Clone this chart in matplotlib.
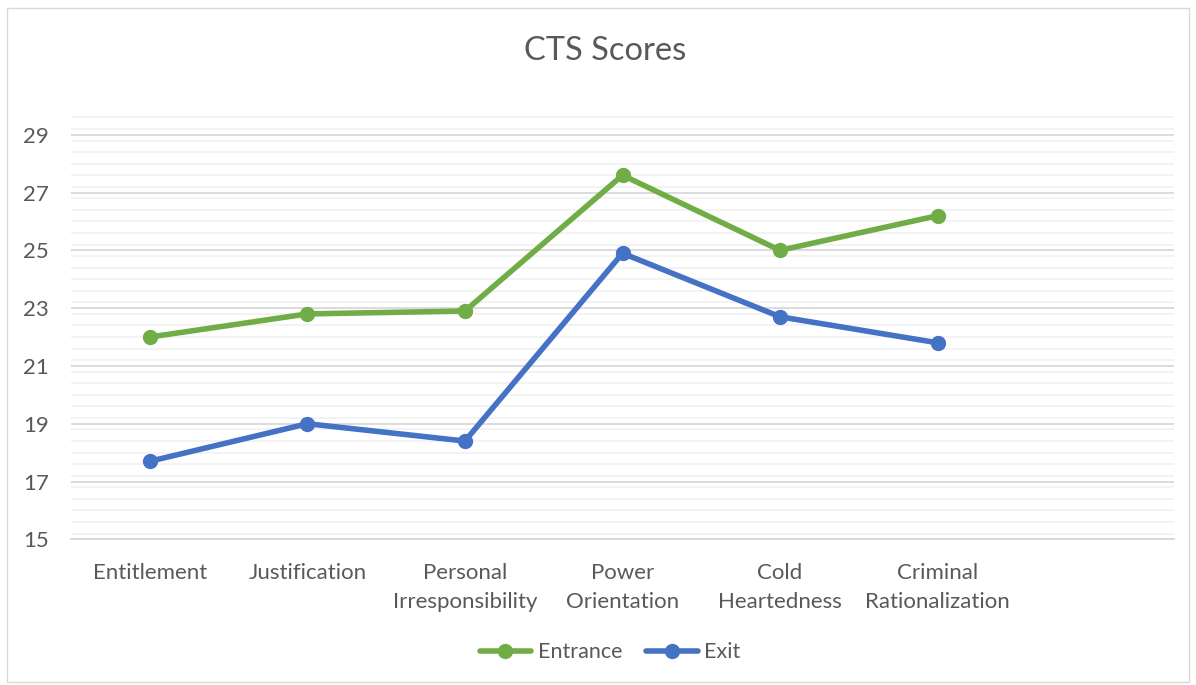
import matplotlib.pyplot as plt
from matplotlib.patches import Rectangle
from matplotlib.ticker import MultipleLocator

categories = ["Entitlement", "Justification", "Personal\nIrresponsibility",
              "Power\nOrientation", "Cold\nHeartedness", "Criminal\nRationalization", ""]
entrance = [22.0, 22.8, 22.9, 27.6, 25.0, 26.2]
exit_scores = [17.7, 19.0, 18.4, 24.9, 22.7, 21.8]

plt.rcParams['font.family'] = ['Lato', 'DejaVu Sans']
text_color = '#595959'

fig = plt.figure(figsize=(11.96, 6.85), dpi=100)
ax = fig.add_axes([0.0594, 0.2127, 0.9222, 0.6243])

# chart area border
fig.patches.append(Rectangle((0.006, 0.004), 0.988, 0.985, transform=fig.transFigure,
                             fill=False, edgecolor='#D9D9D9', linewidth=1))

x = list(range(len(entrance)))
ax.plot(x, entrance, color='#70AD47', linewidth=4, marker='o', markersize=10,
        label='Entrance', solid_capstyle='round', zorder=3)
ax.plot(x, exit_scores, color='#4472C4', linewidth=4, marker='o', markersize=10,
        label='Exit', solid_capstyle='round', zorder=3)

ax.set_xlim(-0.5, len(categories) - 0.5)
ax.set_ylim(15, 29.8)
ax.set_xticks(range(len(categories)))
ax.set_xticklabels(categories, fontsize=16, color=text_color, linespacing=1.55)
ax.set_yticks(range(15, 30, 2))
ax.yaxis.set_minor_locator(MultipleLocator(0.4))
ax.tick_params(axis='y', labelsize=16, labelcolor=text_color, length=0, pad=16)
ax.tick_params(axis='x', length=0, pad=17)
ax.tick_params(which='minor', length=0)

ax.grid(axis='y', which='major', color='#D9D9D9', linewidth=1.3)
ax.grid(axis='y', which='minor', color='#F2F2F2', linewidth=1.3)
ax.set_axisbelow(True)
for s in ['top', 'right', 'left']:
    ax.spines[s].set_visible(False)
ax.spines['bottom'].set_color('#D9D9D9')
ax.spines['bottom'].set_linewidth(1.3)

fig.text(0.506, 0.925, 'CTS Scores', ha='center', va='center', fontsize=23.5, color=text_color)

fig.legend(loc='center', bbox_to_anchor=(0.51, 0.048), ncol=2, frameon=False,
           fontsize=15.5, labelcolor=text_color, handlelength=2.4, columnspacing=1.1,
           handletextpad=0.3)

fig.savefig('out.png', dpi=100)
